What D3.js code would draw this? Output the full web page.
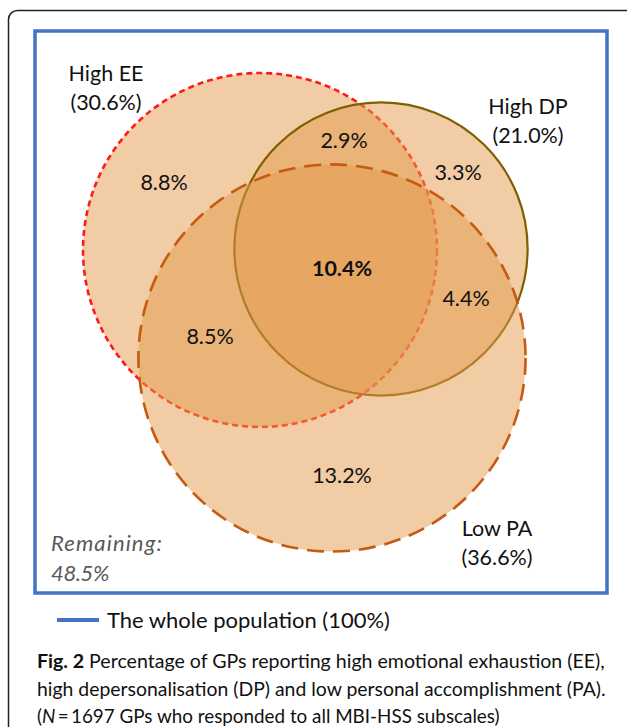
<!DOCTYPE html>
<html>
<head>
<meta charset="utf-8">
<script src="https://cdn.jsdelivr.net/npm/d3@7"></script>
<style>
  body { margin: 0; background: #fff; }
  svg { display: block; }
  text { font-family: Lato, "Open Sans", sans-serif; fill: #111; }
</style>
</head>
<body>
<svg id="chart" width="627" height="727"></svg>
<script>

// data
const sets = ['High EE', 'High DP', 'Low PA']
const setPct = [30.6, 21.0, 36.6]
const regions = ['EE only', 'EE+DP', 'DP only', 'all', 'EE+PA', 'DP+PA', 'PA only']
const regionPct = [8.8, 2.9, 3.3, 10.4, 8.5, 4.4, 13.2]
const remainingPct = 48.5
const legendLabel = 'The whole population (100%)'
const captionLines = [
    ['Fig. 2', ' Percentage of GPs reporting high emotional exhaustion (EE),'],
    ['', 'high depersonalisation (DP) and low personal accomplishment (PA).'],
    ['', '(N\u2009=\u20091697 GPs who responded to all MBI-HSS subscales)']
]

// layout
const centers = [[260, 250], [381, 249], [332, 358]]
const setLabelPos = [[106, 73], [528, 106], [497, 528]]
const regionPos = [[164, 182], [344, 140], [458, 172], [342, 268], [210, 336], [466, 298], [342, 475]]
const captionWidths = [568, 569, 463]
const strokes = [
    { color: '#ff1a1a', width: 2.6, dash: '6,4' },
    { color: '#7f6000', width: 2.2, dash: null },
    { color: '#c55a11', width: 2.6, dash: '17,9' }
]
const fontSize = 21.5

const svg = d3.select('#chart')
const fmt = d => d3.format('.1f')(d) + '%'

// size a text so it spans the given width
function fitWidth (sel, width) {
    const w = sel.node().getComputedTextLength()
    const fs = +sel.attr('font-size')
    sel.attr('font-size', fs * width / w)
}

// spread letters so a text spans the given width
function spreadWidth (sel, width) {
    const w = sel.node().getComputedTextLength()
    const n = sel.text().length
    sel.attr('letter-spacing', (width - w) / n)
}

// area proportional radius
const r = d3.scaleSqrt().domain([0, setPct[0]]).range([0, 177])

// outer frame
svg.append('rect')
    .attr('x', 8.5).attr('y', 10.5)
    .attr('width', 660).attr('height', 760)
    .attr('rx', 9)
    .attr('fill', 'none')
    .attr('stroke', '#222')
    .attr('stroke-width', 1.5)

// whole population box
svg.append('rect')
    .attr('x', 35).attr('y', 31)
    .attr('width', 572).attr('height', 562)
    .attr('fill', 'none')
    .attr('stroke', '#4472c4')
    .attr('stroke-width', 3.5)

const circles = svg.append('g').attr('id', 'circles')

sets.forEach((s, i) => {
    circles.append('circle')
        .attr('cx', centers[i][0])
        .attr('cy', centers[i][1])
        .attr('r', r(setPct[i]))
        .attr('fill', '#e39a4c')
        .attr('fill-opacity', 0.5)
        .attr('stroke', strokes[i].color)
        .attr('stroke-width', strokes[i].width)
        .attr('stroke-dasharray', strokes[i].dash)
})

// set labels
const setLabels = svg.append('g').attr('id', 'setLabels')
sets.forEach((s, i) => {
    const t = setLabels.append('text')
        .attr('x', setLabelPos[i][0])
        .attr('y', setLabelPos[i][1])
        .attr('text-anchor', 'middle')
        .attr('font-size', fontSize)
    t.append('tspan').attr('x', setLabelPos[i][0]).attr('dy', '0.35em').text(s)
    t.append('tspan').attr('x', setLabelPos[i][0]).attr('dy', 29).text('(' + fmt(setPct[i]) + ')')
})

// region values
svg.append('g').attr('id', 'regions')
    .selectAll('text')
    .data(regionPct)
    .join('text')
    .attr('x', (d, i) => regionPos[i][0])
    .attr('y', (d, i) => regionPos[i][1])
    .attr('dy', '0.35em')
    .attr('text-anchor', 'middle')
    .attr('font-size', fontSize)
    .attr('font-weight', (d, i) => regions[i] === 'all' ? 'bold' : null)
    .text(fmt)

// remaining
const remStyle = t => t.attr('font-style', 'italic').style('fill', '#595959')
const rem1 = svg.append('text')
    .attr('x', 51).attr('y', 543).attr('dy', '0.35em')
    .attr('font-size', 22)
    .text('Remaining:')
    .call(remStyle)
spreadWidth(rem1, 112)
const rem2 = svg.append('text')
    .attr('x', 51).attr('y', 573).attr('dy', '0.35em')
    .attr('font-size', 22)
    .text(fmt(remainingPct))
    .call(remStyle)
spreadWidth(rem2, 58)

// legend
svg.append('line')
    .attr('x1', 57).attr('x2', 99)
    .attr('y1', 620).attr('y2', 620)
    .attr('stroke', '#4472c4')
    .attr('stroke-width', 4)

const legendText = svg.append('text')
    .attr('x', 107).attr('y', 620)
    .attr('dy', '0.35em')
    .attr('font-size', 22)
    .text(legendLabel)
fitWidth(legendText, 283)

// caption
const caption = svg.append('g').attr('id', 'caption')
captionLines.forEach((line, i) => {
    const t = caption.append('text')
        .attr('x', 37)
        .attr('y', 668 + i * 27.5)
        .attr('font-size', 20)
    if (line[0]) t.append('tspan').attr('font-weight', 'bold').text(line[0])
    const rest = line[1]
    if (rest.startsWith('(N')) {
        t.append('tspan').text('(')
        t.append('tspan').attr('font-style', 'italic').text('N')
        t.append('tspan').text(rest.slice(2))
    } else {
        t.append('tspan').text(rest)
    }
    fitWidth(t, captionWidths[i])
})

</script>
</body>
</html>
